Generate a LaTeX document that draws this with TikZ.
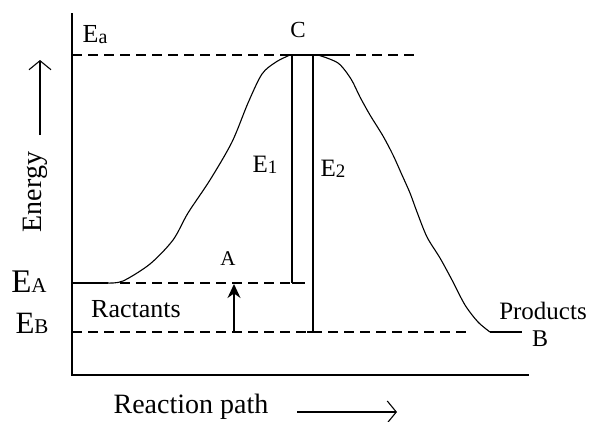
\documentclass[tikz,border=0pt]{standalone}
\usepackage{fontspec}
\setmainfont{Liberation Serif}
\usetikzlibrary{arrows.meta}
\newcommand{\fs}[1]{\fontsize{#1}{#1}\selectfont}
\newcommand{\lowsub}[3]{\raisebox{-#3pt}{\fs{#1}#2}}
\begin{document}
\begin{tikzpicture}[x=1pt,y=-1pt,
  line/.style={line width=1.3pt,black},
  dline/.style={line width=1.3pt,black,dash pattern=on 10pt off 6pt},
  lbl/.style={inner sep=0pt,anchor=base},
  curve/.style={line width=1.1pt,black},
  barb/.style={line width=1.1pt,-{Straight Barb[length=9pt,width=22pt,line width=1.1pt]}}]
\useasboundingbox (0,0) rectangle (589,421);
% axes
\coordinate (ytop) at (72,13);
\coordinate (org) at (72,375);
\coordinate (xend) at (529,375);
\draw[line] (ytop) -- (org) -- (xend);
% key coordinates
\coordinate (eaL) at (72,55);
\coordinate (eaS) at (283,55);
\coordinate (eaE) at (340,55);
\coordinate (eaR) at (416,55);
\coordinate (c1top) at (292,55);
\coordinate (c1bot) at (292,283);
\coordinate (c2top) at (313,55);
\coordinate (c2bot) at (313,332);
\coordinate (eAL) at (72,283);
\coordinate (eAS) at (108,283);
\coordinate (eAD) at (120,283);
\coordinate (eAR) at (305,283);
\coordinate (eBL) at (72,332);
\coordinate (eBR) at (470,332);
\coordinate (pS) at (490,332);
\coordinate (pE) at (522,332);
% Ea line
\draw[dline] (eaL) -- (eaS);
\draw[line] (eaS) -- (eaE);
\draw[dline] (eaE) -- (eaR);
% E_A line
\draw[line] (eAL) -- (eAS);
\draw[dline] (eAD) -- (eAR);
\draw[line] (c1bot) -- (296,283);
% E_B line
\draw[dline] (eBL) -- (eBR);
\draw[line] (pS) -- (pE);
% verticals
\draw[line] (c1top) -- (c1bot);
\draw[line] (c2top) -- (c2bot);
\draw[line] (c2bot) -- ++(-6,0) (c2bot) -- ++(6,0);
% curve
\draw[curve] plot[smooth,tension=0.5] coordinates {(eAS) (123,281) (150,264) (173,240) (188,213) (210,180) (232,142) (248,103) (262,74) (276,62) (290,55)};
\draw[curve] plot[smooth,tension=0.5] coordinates {(318,55) (338,63) (351,79) (360,97) (370,115) (383,136) (393,155) (402,175) (410,193) (417,212) (427,237) (440,258) (452,280) (465,305) (478,322) (pS)};
% small arrow
\coordinate (arB) at (234,332);
\coordinate (arT) at (234,284);
\draw[line,-{Stealth[length=14pt,width=13pt]}] (arB) -- (arT);
% axis label arrows
\coordinate (upB) at (40,135);
\coordinate (upT) at (40,60);
\draw[barb] (upB) -- (upT);
\coordinate (rtL) at (297,412);
\coordinate (rtR) at (397,412);
\draw[barb] (rtL) -- (rtR);
% labels
\node[lbl] (Ea) at (95,42) {\fs{26}E\lowsub{20}{a}{1}};
\node[lbl] (C) at (298,37) {\fs{23}C};
\node[lbl] (E1) at (265,172) {\fs{25}E\lowsub{19}{1}{1}};
\node[lbl] (E2) at (333,176) {\fs{25}E\lowsub{19}{2}{1}};
\node[lbl] (A) at (228,265) {\fs{21}A};
\node[lbl] (EA) at (29,292) {\fs{33}E\lowsub{21}{A}{0}};
\node[lbl] (EB) at (32,333) {\fs{31}E\lowsub{21}{B}{0}};
\node[lbl] (R) at (136,317) {\fs{26}Ractants};
\node[lbl] (P) at (543,319) {\fs{25}Products};
\node[lbl] (B) at (540,346) {\fs{24}B};
\node[lbl] (RP) at (191,413) {\fs{28}Reaction path};
\node[lbl,rotate=90] (En) at (41,192) {\fs{28}Energy};
\end{tikzpicture}
\end{document}
